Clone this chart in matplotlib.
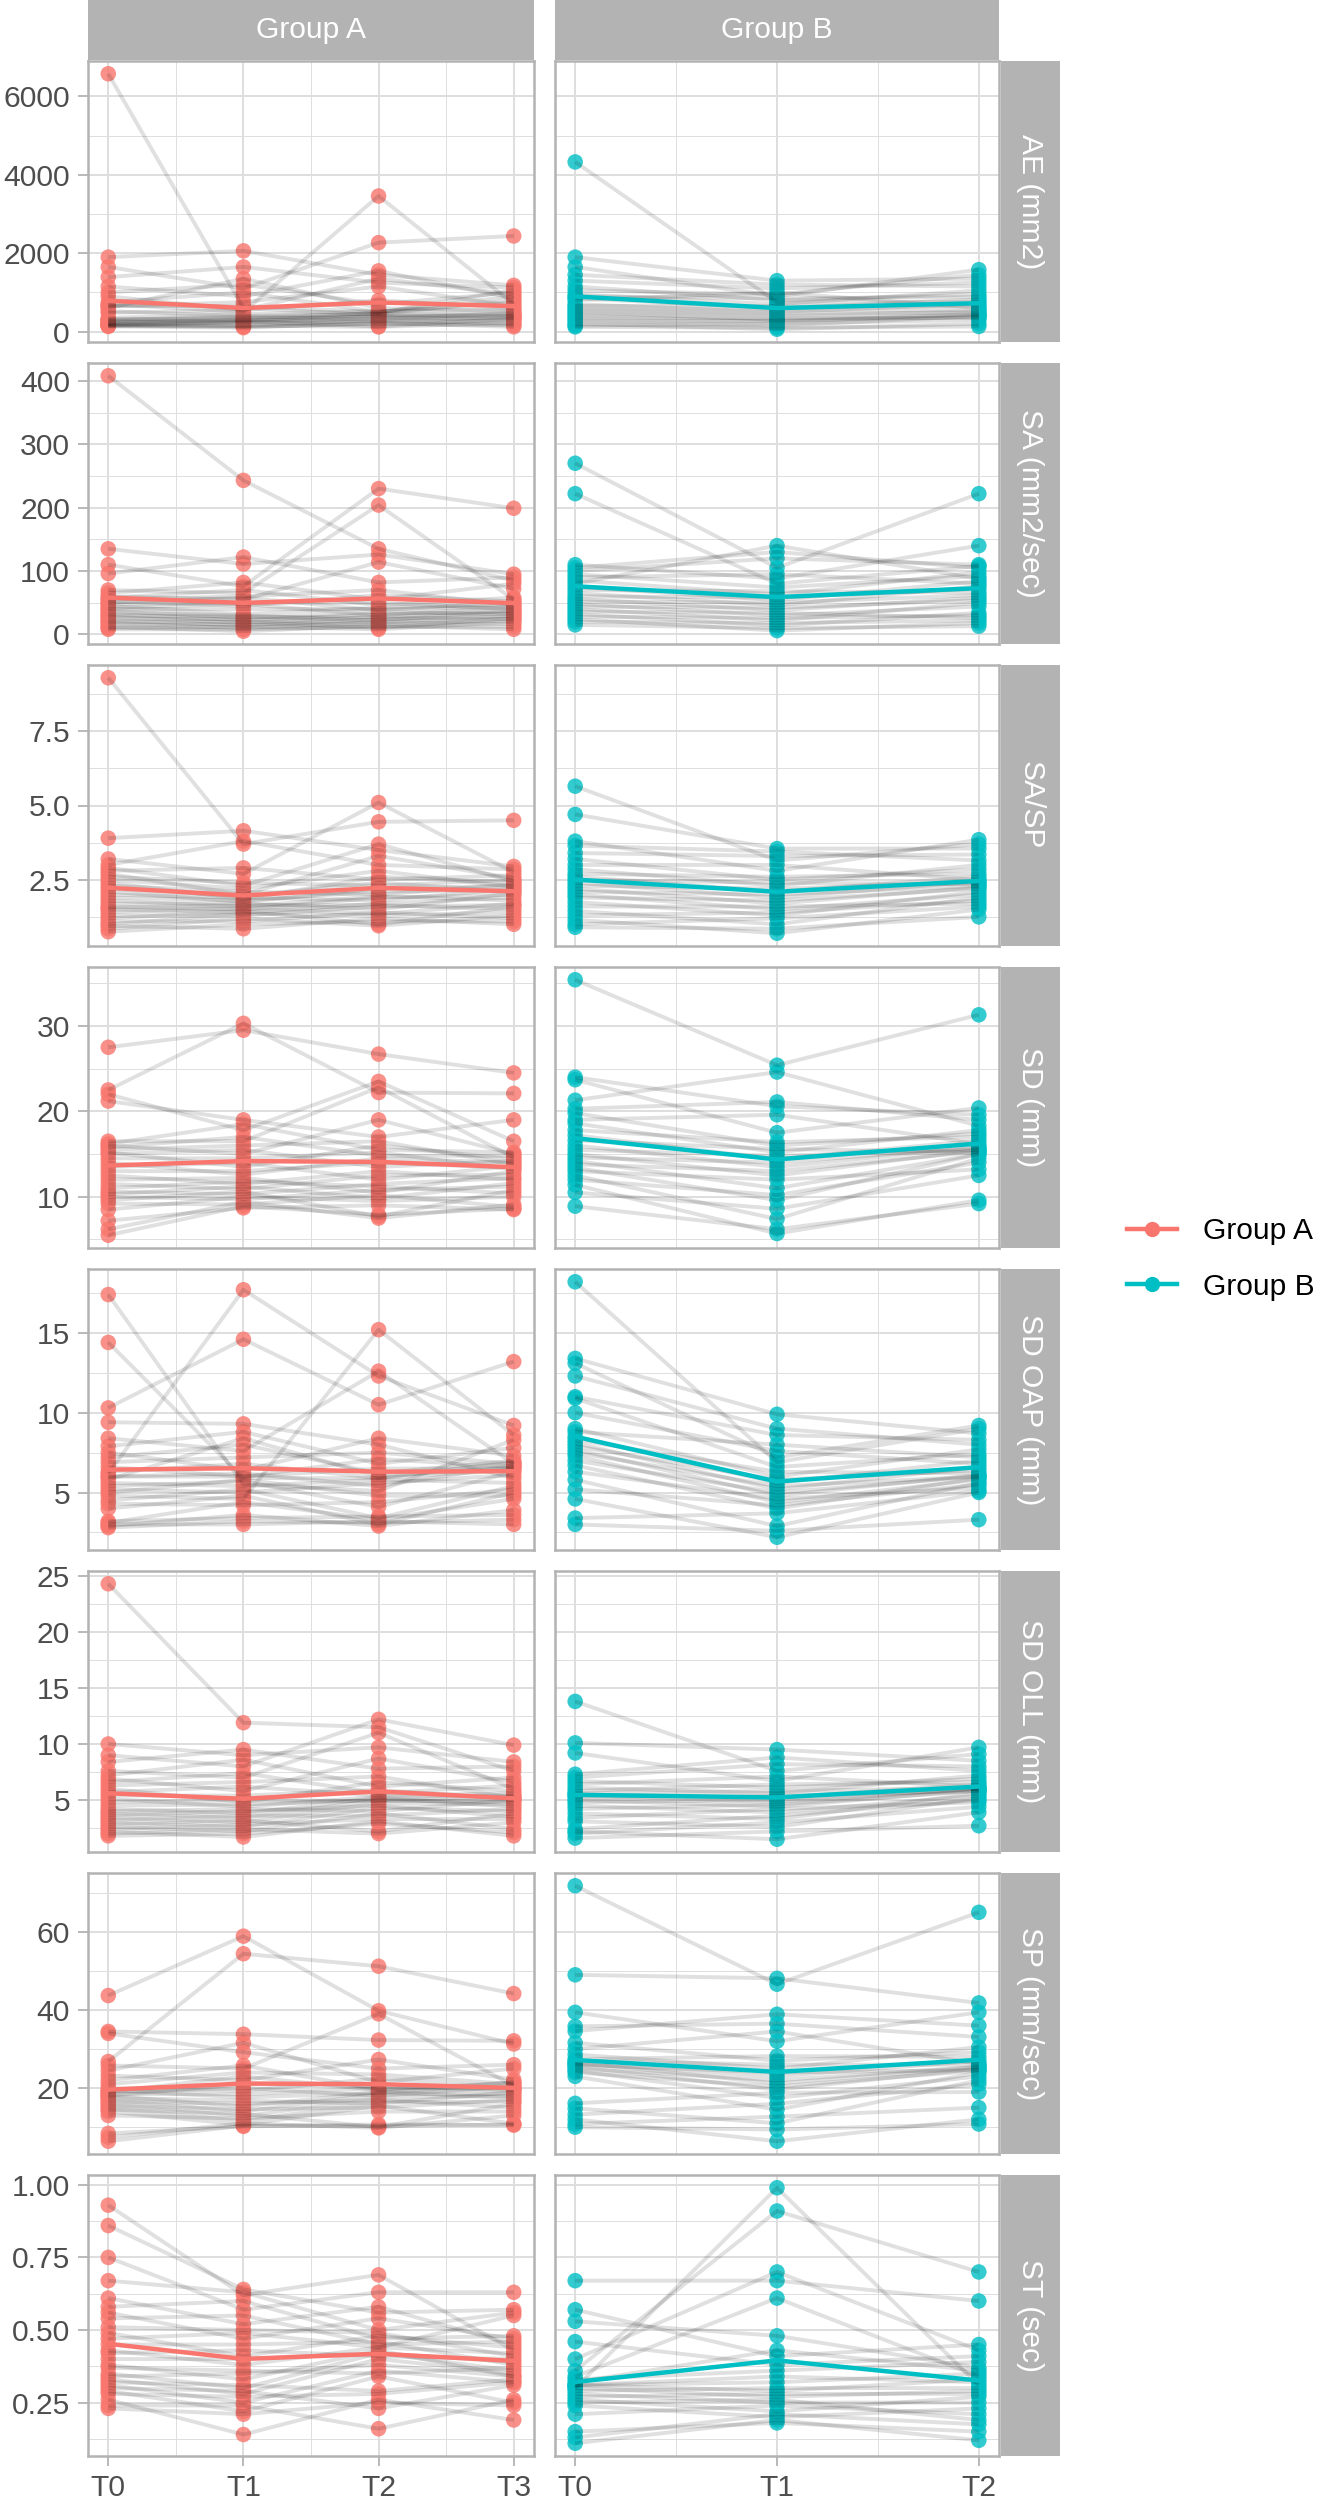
import matplotlib
matplotlib.use("Agg")
import matplotlib.pyplot as plt
from matplotlib.lines import Line2D
import numpy as np

plt.rcParams['font.family'] = ['Liberation Sans', 'DejaVu Sans']

# ---------------- data ----------------
groups = ["Group A", "Group B"]
group_colors = ["#F8766D", "#00BFC4"]
times_a = ["T0", "T1", "T2", "T3"]
times_b = ["T0", "T1", "T2"]
metrics = ["AE (mm2)", "SA (mm2/sec)", "SA/SP", "SD (mm)", "SD OAP (mm)",
           "SD OLL (mm)", "SP (mm/sec)", "ST (sec)"]

# which observation at each later time point belongs to subject i
pair_a_t1 = [2, 0, 4, 1, 6, 3, 9, 5, 7, 12, 8, 10, 14, 11, 13, 17, 15, 19, 16, 21, 18, 23, 20, 25, 22, 27, 24, 26]
pair_a_t2 = [1, 3, 0, 5, 2, 8, 4, 10, 6, 7, 13, 9, 11, 16, 12, 14, 20, 15, 18, 17, 22, 19, 26, 21, 23, 24, 27, 25]
pair_a_t3 = [3, 1, 0, 2, 7, 4, 5, 6, 11, 8, 9, 14, 10, 12, 13, 18, 15, 16, 22, 17, 19, 20, 21, 25, 23, 27, 24, 26]
pair_b_t1 = [3, 0, 5, 1, 2, 7, 4, 9, 6, 11, 8, 13, 10, 15, 12, 17, 14, 19, 16, 21, 18, 23, 20, 22]
pair_b_t2 = [1, 2, 0, 4, 3, 6, 9, 5, 7, 8, 12, 10, 11, 14, 13, 17, 15, 16, 20, 18, 19, 22, 21, 23]

ae_a_t0 = [6580, 1900, 1650, 1390, 1150, 1000, 900, 750, 650, 700, 650, 600, 520, 480, 350, 320, 300, 280, 260, 240, 220, 200, 180, 160, 150, 130, 160, 150]
ae_a_t1 = [2060, 1650, 600, 1200, 1100, 1000, 900, 750, 650, 550, 1350, 550, 500, 450, 400, 380, 350, 330, 300, 280, 260, 250, 240, 220, 150, 140, 120, 100]
ae_a_t2 = [2270, 420, 1550, 1450, 1350, 1250, 1150, 3460, 700, 600, 500, 450, 520, 500, 480, 450, 800, 400, 380, 350, 320, 300, 260, 240, 220, 200, 130, 120]
ae_a_t3 = [2440, 1180, 1120, 400, 1000, 950, 900, 850, 700, 750, 800, 650, 600, 560, 520, 480, 450, 420, 1060, 380, 350, 330, 300, 280, 220, 200, 160, 120]
ae_b_t0 = [4330, 1900, 1650, 1450, 1300, 1150, 1050, 950, 900, 850, 800, 700, 650, 600, 550, 500, 450, 400, 350, 300, 250, 200, 150, 120]
ae_b_t1 = [1300, 1200, 1100, 750, 950, 900, 850, 800, 1000, 700, 650, 600, 550, 500, 450, 400, 350, 300, 280, 250, 200, 150, 100, 60]
ae_b_t2 = [1580, 760, 1350, 1250, 1150, 1050, 950, 880, 820, 1450, 700, 650, 600, 560, 520, 480, 450, 420, 400, 380, 350, 300, 200, 130]

sa_a_t0 = [408, 135, 110, 96, 70, 65, 60, 58, 55, 52, 50, 48, 45, 42, 40, 38, 35, 32, 30, 28, 25, 22, 20, 18, 15, 12, 10, 8]
sa_a_t1 = [111, 122, 243, 82, 76, 70, 65, 60, 58, 55, 50, 48, 45, 40, 32, 30, 28, 26, 24, 22, 20, 18, 16, 14, 12, 10, 8, 5]
sa_a_t2 = [230, 135, 204, 126, 114, 82, 70, 62, 55, 50, 46, 42, 40, 38, 35, 32, 30, 28, 26, 24, 22, 20, 18, 16, 14, 12, 10, 8]
sa_a_t3 = [199, 95, 90, 85, 80, 72, 58, 55, 52, 50, 48, 46, 44, 42, 40, 38, 36, 34, 32, 30, 28, 26, 24, 22, 20, 16, 12, 8]
sa_b_t0 = [270, 222, 110, 105, 100, 95, 90, 85, 80, 75, 70, 65, 60, 56, 52, 48, 44, 40, 36, 32, 28, 24, 20, 15]
sa_b_t1 = [80, 130, 120, 105, 95, 88, 140, 74, 68, 63, 58, 54, 50, 46, 42, 38, 34, 30, 26, 22, 18, 14, 10, 6]
sa_b_t2 = [140, 222, 108, 110, 105, 98, 92, 88, 84, 80, 76, 72, 66, 62, 58, 54, 50, 44, 34, 30, 26, 22, 18, 13]

sasp_a_t0 = [9.3, 3.9, 3.2, 3.0, 2.9, 2.8, 2.7, 2.6, 2.5, 2.4, 2.3, 2.2, 2.1, 2.0, 1.9, 1.8, 1.7, 1.6, 1.55, 1.5, 1.4, 1.3, 1.2, 1.1, 1.0, 0.95, 0.85, 0.75]
sasp_a_t1 = [4.15, 3.8, 3.7, 2.9, 2.7, 2.4, 2.3, 2.2, 2.1, 2.0, 1.95, 1.9, 1.85, 1.8, 1.75, 1.7, 1.65, 1.6, 1.55, 1.5, 1.45, 1.4, 1.35, 1.3, 1.2, 1.1, 1.0, 0.85]
sasp_a_t2 = [5.1, 4.45, 3.7, 3.5, 3.3, 3.0, 2.8, 2.6, 2.5, 2.4, 2.3, 2.2, 2.1, 2.0, 1.95, 1.9, 1.8, 1.7, 1.65, 1.6, 1.5, 1.4, 1.35, 1.3, 1.2, 1.1, 1.0, 0.95]
sasp_a_t3 = [2.75, 2.95, 2.85, 4.5, 2.65, 2.55, 2.5, 2.45, 2.4, 2.35, 2.3, 2.25, 2.2, 2.15, 2.1, 2.05, 2.0, 1.9, 1.8, 1.7, 1.65, 1.6, 1.5, 1.4, 1.3, 1.2, 1.1, 1.0]
sasp_b_t0 = [5.65, 4.7, 3.8, 3.65, 3.4, 3.2, 3.0, 2.85, 2.7, 2.6, 2.5, 2.4, 2.3, 2.2, 2.1, 2.0, 1.9, 1.75, 1.6, 1.45, 1.3, 1.15, 1.0, 0.9]
sasp_b_t1 = [3.55, 3.45, 3.3, 3.15, 3.0, 2.8, 2.6, 2.5, 2.4, 2.3, 2.2, 2.1, 2.0, 1.9, 1.8, 1.7, 1.6, 1.5, 1.4, 1.3, 1.2, 1.0, 0.85, 0.7]
sasp_b_t2 = [3.85, 3.7, 3.55, 3.35, 3.15, 3.0, 2.85, 2.7, 2.6, 2.5, 2.45, 2.4, 2.35, 2.3, 2.25, 2.2, 2.1, 2.0, 1.9, 1.8, 1.7, 1.6, 1.5, 1.25]

sd_a_t0 = [27.5, 22.5, 22.0, 21.2, 16.5, 16.2, 16.0, 15.8, 15.5, 15.2, 15.0, 14.5, 14.0, 13.5, 13.0, 12.5, 12.0, 11.5, 11.0, 10.6, 10.3, 10.0, 9.6, 9.2, 8.5, 7.2, 6.2, 5.5]
sd_a_t1 = [30.3, 19.0, 29.5, 18.5, 17.8, 17.0, 16.5, 16.0, 15.5, 15.0, 14.5, 14.0, 13.5, 13.0, 12.6, 12.2, 11.8, 11.5, 11.2, 10.9, 10.6, 10.3, 10.0, 9.7, 9.4, 9.1, 8.9, 8.7]
sd_a_t2 = [23.5, 26.7, 22.8, 22.2, 19.0, 17.0, 16.5, 16.0, 15.5, 15.2, 14.8, 14.5, 14.0, 13.5, 13.0, 12.5, 12.0, 11.5, 11.2, 10.8, 10.5, 10.2, 9.8, 9.5, 9.0, 7.9, 7.7, 7.5]
sd_a_t3 = [16.5, 22.1, 19.0, 24.5, 15.2, 15.0, 14.8, 14.6, 14.4, 14.2, 14.0, 13.8, 13.6, 13.4, 13.2, 13.0, 12.6, 12.2, 12.0, 11.6, 11.2, 10.8, 10.4, 10.0, 9.1, 8.8, 8.6, 8.5]
sd_b_t0 = [35.4, 24.0, 23.7, 21.3, 20.3, 19.8, 19.0, 18.6, 17.8, 17.2, 16.6, 16.0, 15.5, 15.0, 14.6, 14.2, 13.8, 13.4, 13.0, 12.5, 12.0, 11.4, 10.5, 8.9]
sd_b_t1 = [20.6, 24.6, 21.1, 25.4, 19.6, 17.5, 16.4, 16.0, 15.6, 15.2, 14.8, 14.4, 14.0, 13.5, 13.0, 12.5, 12.0, 11.0, 10.2, 9.6, 8.6, 7.4, 6.2, 5.7]
sd_b_t2 = [20.4, 31.3, 19.6, 19.0, 18.3, 17.8, 17.4, 17.0, 16.6, 16.2, 15.8, 15.5, 15.2, 15.8, 15.5, 15.3, 15.0, 15.0, 14.5, 14.0, 13.2, 12.5, 9.6, 9.2]

oap_a_t0 = [17.4, 14.4, 10.3, 9.4, 8.4, 7.9, 7.5, 7.2, 6.9, 6.6, 6.3, 6.0, 6.2, 6.0, 5.8, 5.6, 5.4, 5.2, 5.0, 4.8, 4.5, 4.3, 4.0, 3.2, 3.1, 3.0, 2.9, 2.8]
oap_a_t1 = [5.9, 9.3, 5.5, 8.8, 14.6, 8.0, 7.6, 7.2, 6.8, 6.4, 6.0, 6.2, 6.0, 8.4, 17.7, 5.7, 5.8, 5.4, 5.2, 5.0, 4.8, 4.6, 4.4, 4.2, 3.6, 3.4, 3.2, 3.0]
oap_a_t2 = [10.5, 5.1, 12.6, 5.9, 8.4, 8.0, 7.5, 7.1, 6.8, 6.5, 6.2, 12.3, 6.0, 5.9, 5.8, 5.6, 5.4, 15.2, 4.8, 4.4, 4.1, 3.5, 3.4, 3.3, 3.2, 3.1, 3.0, 2.9]
oap_a_t3 = [13.2, 6.9, 5.9, 8.3, 7.8, 7.3, 7.0, 6.8, 6.6, 6.4, 9.2, 6.8, 6.7, 6.6, 6.5, 6.3, 6.1, 8.6, 5.6, 5.4, 5.2, 5.0, 4.8, 4.6, 3.9, 3.6, 3.3, 3.0]
oap_b_t0 = [18.2, 13.4, 13.1, 12.3, 11.0, 10.9, 10.0, 9.0, 8.8, 8.5, 8.3, 8.1, 7.9, 7.7, 7.5, 7.3, 7.0, 6.7, 6.3, 5.8, 5.2, 4.6, 3.4, 3.0]
oap_b_t1 = [9.9, 9.0, 8.6, 6.9, 7.6, 7.2, 8.0, 6.6, 6.3, 6.0, 5.8, 5.6, 5.4, 5.2, 5.0, 4.8, 4.6, 4.4, 4.2, 4.0, 3.7, 2.9, 2.6, 2.2]
oap_b_t2 = [9.2, 9.0, 8.7, 8.3, 8.0, 7.7, 7.4, 7.2, 7.0, 6.8, 6.6, 6.4, 6.2, 6.0, 6.1, 6.0, 5.9, 5.8, 5.6, 5.5, 5.3, 5.1, 5.0, 3.3]

oll_a_t0 = [24.3, 10.0, 9.0, 8.4, 7.6, 7.2, 6.9, 6.6, 6.3, 6.0, 5.7, 5.4, 5.1, 4.8, 4.5, 4.2, 4.0, 3.8, 3.6, 3.4, 3.2, 3.0, 2.8, 2.6, 2.4, 2.2, 2.0, 1.8]
oll_a_t1 = [9.0, 9.5, 11.9, 8.6, 8.0, 7.4, 7.0, 6.6, 6.2, 5.8, 5.4, 5.0, 4.8, 4.6, 4.4, 4.2, 4.0, 3.8, 3.6, 3.4, 3.2, 3.0, 2.8, 2.6, 2.4, 2.2, 2.0, 1.7]
oll_a_t2 = [12.2, 11.5, 11.0, 9.7, 8.7, 7.8, 7.1, 6.6, 6.2, 5.9, 5.6, 5.3, 5.0, 5.4, 5.2, 5.0, 4.9, 4.7, 4.5, 4.3, 4.0, 3.8, 3.6, 3.3, 3.1, 2.9, 2.2, 2.0]
oll_a_t3 = [9.9, 8.4, 8.0, 7.6, 7.0, 6.6, 6.3, 6.0, 5.8, 5.6, 5.4, 5.2, 5.0, 5.3, 5.1, 5.0, 4.8, 4.6, 4.4, 4.2, 4.0, 3.8, 3.5, 3.3, 3.0, 2.4, 2.1, 1.8]
oll_b_t0 = [13.8, 10.1, 9.2, 7.3, 7.0, 6.7, 6.4, 6.1, 5.8, 5.5, 5.6, 5.4, 5.2, 5.0, 4.8, 4.5, 4.2, 3.8, 3.4, 3.1, 2.4, 2.2, 2.0, 1.6]
oll_b_t1 = [9.5, 8.8, 8.2, 7.6, 7.1, 6.7, 6.4, 6.1, 5.8, 5.6, 5.4, 5.2, 5.0, 4.8, 4.6, 4.4, 4.2, 3.9, 3.6, 3.3, 3.0, 2.6, 2.2, 1.5]
oll_b_t2 = [9.7, 9.1, 8.5, 8.0, 7.6, 7.2, 6.9, 6.6, 6.4, 6.2, 6.0, 5.8, 6.1, 6.0, 5.9, 5.8, 5.6, 5.4, 5.2, 5.0, 4.8, 4.4, 3.9, 2.7]

sp_a_t0 = [43.7, 34.5, 34.0, 26.8, 25.8, 24.5, 23.2, 22.0, 21.0, 20.0, 19.0, 18.0, 19.5, 19.0, 18.5, 18.0, 17.5, 17.0, 16.5, 16.0, 15.5, 15.0, 14.5, 14.0, 13.0, 8.4, 7.4, 6.4]
sp_a_t1 = [33.8, 54.4, 58.9, 31.6, 29.2, 25.8, 25.0, 24.0, 23.0, 22.0, 21.0, 20.0, 19.2, 18.4, 17.6, 16.8, 16.0, 15.3, 14.6, 14.0, 13.4, 12.8, 12.2, 11.6, 11.0, 10.6, 10.4, 10.2]
sp_a_t2 = [25.0, 39.8, 39.0, 32.3, 27.3, 51.2, 23.5, 22.5, 21.5, 20.5, 19.6, 18.8, 20.0, 19.5, 19.0, 18.5, 18.0, 17.5, 17.0, 16.5, 16.0, 15.5, 15.0, 14.0, 10.7, 10.3, 10.0, 9.8]
sp_a_t3 = [26.0, 32.1, 44.2, 31.3, 25.0, 22.2, 21.4, 20.6, 20.0, 19.4, 21.5, 21.0, 20.5, 20.0, 19.5, 19.0, 18.5, 18.0, 17.5, 17.0, 16.5, 16.0, 15.0, 14.0, 13.0, 10.9, 10.7, 10.5]
sp_b_t0 = [71.8, 49.0, 39.4, 35.8, 34.6, 31.6, 30.0, 28.6, 27.4, 26.2, 27.0, 26.5, 26.0, 25.5, 25.0, 24.5, 24.0, 23.0, 16.1, 14.8, 13.2, 12.0, 10.8, 10.0]
sp_b_t1 = [48.1, 36.5, 38.9, 46.6, 34.5, 32.0, 28.2, 27.0, 26.0, 25.0, 24.0, 23.0, 22.0, 21.2, 20.4, 19.6, 18.8, 17.5, 16.0, 14.5, 12.7, 11.0, 9.4, 6.4]
sp_b_t2 = [39.4, 65.0, 41.8, 36.0, 33.1, 30.5, 29.2, 28.0, 27.0, 26.2, 25.4, 24.6, 26.0, 25.5, 25.0, 24.5, 24.0, 23.0, 22.0, 21.0, 19.0, 15.0, 12.0, 10.8]

st_a_t0 = [0.93, 0.86, 0.75, 0.67, 0.61, 0.58, 0.56, 0.54, 0.51, 0.49, 0.47, 0.45, 0.43, 0.42, 0.40, 0.38, 0.37, 0.35, 0.34, 0.33, 0.32, 0.31, 0.30, 0.29, 0.28, 0.26, 0.24, 0.23]
st_a_t1 = [0.64, 0.63, 0.62, 0.60, 0.57, 0.55, 0.52, 0.50, 0.49, 0.47, 0.45, 0.43, 0.41, 0.40, 0.38, 0.36, 0.35, 0.33, 0.31, 0.30, 0.29, 0.28, 0.27, 0.25, 0.24, 0.22, 0.21, 0.14]
st_a_t2 = [0.63, 0.69, 0.58, 0.56, 0.54, 0.50, 0.49, 0.48, 0.47, 0.46, 0.45, 0.44, 0.42, 0.44, 0.43, 0.42, 0.41, 0.40, 0.38, 0.36, 0.35, 0.34, 0.29, 0.28, 0.26, 0.25, 0.23, 0.16]
st_a_t3 = [0.63, 0.57, 0.56, 0.43, 0.48, 0.47, 0.46, 0.45, 0.44, 0.55, 0.42, 0.41, 0.40, 0.39, 0.38, 0.37, 0.36, 0.35, 0.34, 0.33, 0.32, 0.31, 0.34, 0.32, 0.26, 0.25, 0.24, 0.19]
st_b_t0 = [0.67, 0.57, 0.53, 0.46, 0.40, 0.36, 0.34, 0.33, 0.32, 0.31, 0.30, 0.31, 0.31, 0.30, 0.29, 0.28, 0.27, 0.26, 0.25, 0.24, 0.21, 0.15, 0.13, 0.11]
st_b_t1 = [0.41, 0.38, 0.70, 0.67, 0.61, 0.48, 0.43, 0.91, 0.99, 0.36, 0.34, 0.32, 0.30, 0.29, 0.28, 0.27, 0.26, 0.25, 0.24, 0.22, 0.21, 0.20, 0.19, 0.18]
st_b_t2 = [0.37, 0.60, 0.45, 0.43, 0.41, 0.39, 0.70, 0.36, 0.35, 0.34, 0.33, 0.32, 0.31, 0.30, 0.29, 0.28, 0.27, 0.25, 0.23, 0.21, 0.19, 0.175, 0.15, 0.12]

y_breaks = [
    [0, 2000, 4000, 6000],
    [0, 100, 200, 300, 400],
    [2.5, 5.0, 7.5],
    [10, 20, 30],
    [5, 10, 15],
    [5, 10, 15, 20, 25],
    [20, 40, 60],
    [0.25, 0.50, 0.75, 1.00],
]
y_labels = [
    ["0", "2000", "4000", "6000"],
    ["0", "100", "200", "300", "400"],
    ["2.5", "5.0", "7.5"],
    ["10", "20", "30"],
    ["5", "10", "15"],
    ["5", "10", "15", "20", "25"],
    ["20", "40", "60"],
    ["0.25", "0.50", "0.75", "1.00"],
]

data = [
    ([ae_a_t0, ae_a_t1, ae_a_t2, ae_a_t3], [ae_b_t0, ae_b_t1, ae_b_t2]),
    ([sa_a_t0, sa_a_t1, sa_a_t2, sa_a_t3], [sa_b_t0, sa_b_t1, sa_b_t2]),
    ([sasp_a_t0, sasp_a_t1, sasp_a_t2, sasp_a_t3], [sasp_b_t0, sasp_b_t1, sasp_b_t2]),
    ([sd_a_t0, sd_a_t1, sd_a_t2, sd_a_t3], [sd_b_t0, sd_b_t1, sd_b_t2]),
    ([oap_a_t0, oap_a_t1, oap_a_t2, oap_a_t3], [oap_b_t0, oap_b_t1, oap_b_t2]),
    ([oll_a_t0, oll_a_t1, oll_a_t2, oll_a_t3], [oll_b_t0, oll_b_t1, oll_b_t2]),
    ([sp_a_t0, sp_a_t1, sp_a_t2, sp_a_t3], [sp_b_t0, sp_b_t1, sp_b_t2]),
    ([st_a_t0, st_a_t1, st_a_t2, st_a_t3], [st_b_t0, st_b_t1, st_b_t2]),
]
pairs = [[pair_a_t1, pair_a_t2, pair_a_t3], [pair_b_t1, pair_b_t2]]
time_labels = [times_a, times_b]

# ---------------- style / layout ----------------
W, H, DPI = 1319, 2500, 100
FS = 21.6
GRID = "#DEDEDE"
BORDER = "#B3B3B3"
STRIP = "#B3B3B3"
TXT = "#4D4D4D"

fig = plt.figure(figsize=(W / DPI, H / DPI), dpi=DPI)
fig.patch.set_facecolor("white")

panel_x = [(88, 446), (555, 444)]
strip_r_x = (1001, 59)
top0, ph, gap = 61, 281, 21


def frac_rect(x, y_top, w, h):
    return [x / W, 1 - (y_top + h) / H, w / W, h / H]


def minor_breaks(major, lo, hi):
    step = major[1] - major[0]
    cand = [major[0] - step / 2] + [(a + b) / 2 for a, b in zip(major[:-1], major[1:])] + [major[-1] + step / 2]
    return [m for m in cand if lo <= m <= hi]


# top strips
for c, g in enumerate(groups):
    sx = fig.add_axes(frac_rect(panel_x[c][0], 0, panel_x[c][1], 60))
    sx.set_facecolor(STRIP)
    sx.set_xticks([]); sx.set_yticks([])
    for s in sx.spines.values():
        s.set_visible(False)
    sx.text(0.5, 0.5, g, color="white", fontsize=FS, ha="center", va="center", transform=sx.transAxes)

nrows = len(metrics)
for r, m in enumerate(metrics):
    ytop = top0 + r * (ph + gap)
    allv = [v for grp in data[r] for arr in grp for v in arr]
    vmin, vmax = min(allv), max(allv)
    rng = vmax - vmin
    lo, hi = vmin - 0.05 * rng, vmax + 0.05 * rng
    for c, g in enumerate(groups):
        ax = fig.add_axes(frac_rect(panel_x[c][0], ytop, panel_x[c][1], ph))
        vals = data[r][c]
        nt = len(vals)
        xs = np.arange(nt)
        # points
        for t in range(nt):
            ax.scatter(np.full(len(vals[t]), t), vals[t], s=125, color=group_colors[c],
                       alpha=0.8, edgecolors="none", zorder=3)
        # subject lines
        for i in range(len(vals[0])):
            traj = [vals[0][i]] + [vals[t][pairs[c][t - 1][i]] for t in range(1, nt)]
            ax.plot(xs, traj, color="black", alpha=0.12, lw=2.8, zorder=4,
                    solid_capstyle="butt")
        # mean line
        means = [np.mean(v) for v in vals]
        ax.plot(xs, means, color=group_colors[c], lw=3.2, zorder=5)

        ax.set_xlim(-0.05 * (nt - 1), (nt - 1) * 1.05)
        ax.set_ylim(lo, hi)
        ax.set_xticks(xs)
        ax.set_xticks(xs[:-1] + 0.5, minor=True)
        ax.set_yticks(y_breaks[r])
        ax.set_yticks(minor_breaks(y_breaks[r], lo, hi), minor=True)
        ax.set_axisbelow(True)
        ax.grid(which="major", color=GRID, lw=1.4)
        ax.grid(which="minor", color=GRID, lw=0.7)
        for s in ax.spines.values():
            s.set_color(BORDER)
            s.set_linewidth(1.8)
            s.set_zorder(6)
        ax.tick_params(which="minor", length=0)
        ax.tick_params(which="major", length=7, width=1.3, color=BORDER,
                       labelcolor=TXT, labelsize=FS, pad=6)
        if c == 0:
            ax.set_yticklabels(y_labels[r])
        else:
            ax.tick_params(axis="y", which="major", length=0, labelleft=False)
        if r == nrows - 1:
            ax.set_xticklabels(time_labels[c])
        else:
            ax.tick_params(axis="x", which="major", length=0, labelbottom=False)

    # right strip
    rs = fig.add_axes(frac_rect(strip_r_x[0], ytop, strip_r_x[1], ph))
    rs.set_facecolor(STRIP)
    rs.set_xticks([]); rs.set_yticks([])
    for s in rs.spines.values():
        s.set_visible(False)
    rs.text(0.5, 0.5, m, color="white", fontsize=FS, ha="center", va="center",
            rotation=270, transform=rs.transAxes)

# legend
handles = [Line2D([0], [0], color=col, lw=3.2, marker="o", markersize=11,
                  markeredgecolor="none") for col in group_colors]
fig.legend(handles, groups, loc="center left", bbox_to_anchor=(1127 / W, 1 - 1259 / H),
           frameon=False, fontsize=FS, handlelength=1.67, handletextpad=0.87,
           labelspacing=0.92, borderpad=0, borderaxespad=0)

fig.savefig("out.png", dpi=DPI, facecolor="white")
